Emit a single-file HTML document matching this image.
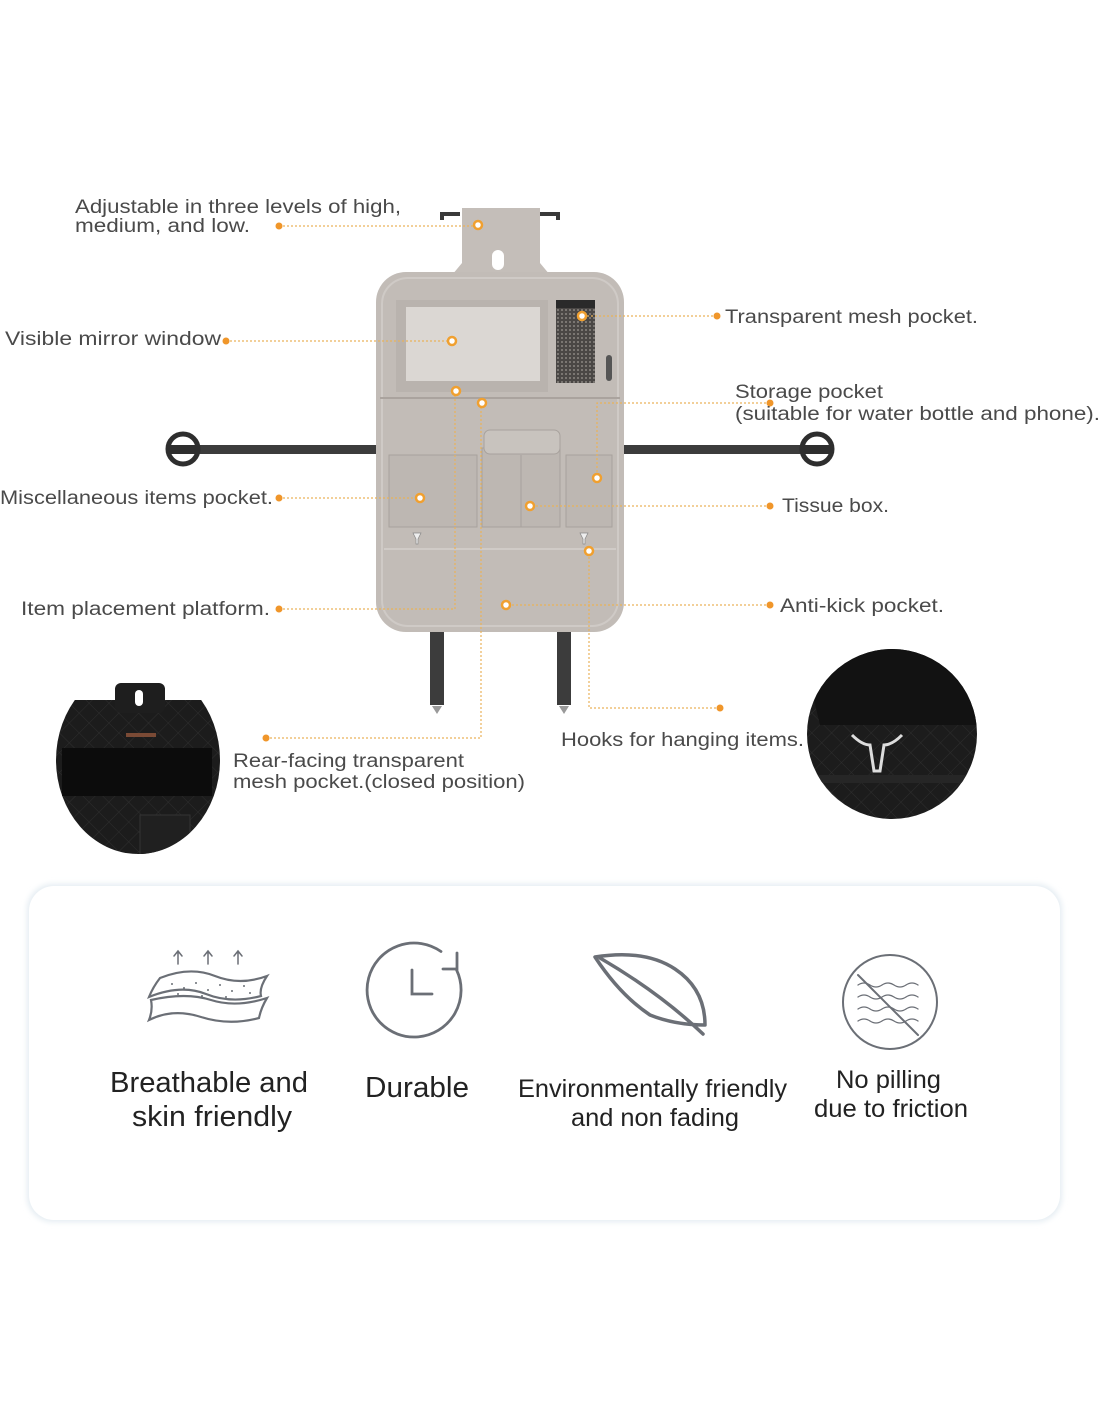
<!DOCTYPE html>
<html><head><meta charset="utf-8"><style>
html,body{margin:0;padding:0;background:#fff;}
svg{display:block;}
.l{font-family:"Liberation Sans",sans-serif;font-size:19px;fill:#4a4a4a;}
.b{font-family:"Liberation Sans",sans-serif;fill:#222;}
.ln{stroke:#e9b25a;stroke-width:1.2;stroke-dasharray:2 2;fill:none;}
</style></head><body>
<svg width="1100" height="1422" viewBox="0 0 1100 1422" xmlns="http://www.w3.org/2000/svg">
<defs>
<filter id="sh" x="-5%" y="-10%" width="110%" height="120%"><feGaussianBlur stdDeviation="3"/></filter>
<pattern id="mesh" width="4" height="4" patternUnits="userSpaceOnUse"><rect width="4" height="4" fill="#4a4745"/><circle cx="2" cy="2" r="1" fill="#8a8581"/></pattern>
<pattern id="quilt" width="14" height="14" patternUnits="userSpaceOnUse" patternTransform="rotate(45)"><rect width="14" height="14" fill="#1c1c1c"/><path d="M0 0H14M0 0V14" stroke="#2e2e2e" stroke-width="1"/></pattern>
<clipPath id="cc"><circle cx="892" cy="734" r="85"/></clipPath>
<clipPath id="lc"><ellipse cx="138" cy="760" rx="82" ry="94"/></clipPath>
</defs>

<rect x="190" y="445" width="190" height="9" fill="#3c3c3c"/>
<rect x="620" y="445" width="190" height="9" fill="#3c3c3c"/>
<circle cx="183" cy="449" r="15" fill="none" stroke="#2e2e2e" stroke-width="5"/>
<rect x="168" y="445" width="30" height="9" fill="#2e2e2e"/>
<circle cx="817" cy="449" r="15" fill="none" stroke="#2e2e2e" stroke-width="5"/>
<rect x="802" y="445" width="30" height="9" fill="#2e2e2e"/>
<rect x="430" y="630" width="14" height="75" fill="#3c3c3c"/>
<rect x="557" y="630" width="14" height="75" fill="#3c3c3c"/>
<path d="M432 706h10l-5 8z M559 706h10l-5 8z" fill="#999"/>
<path d="M442 220v-6h18M540 214h18v6" stroke="#3a3a3a" stroke-width="4" fill="none"/>
<path d="M462 208h78v55l10 12h-98l10-12z" fill="#c4beb9"/>
<rect x="492" y="250" width="12" height="20" rx="6" fill="#fff"/>
<rect x="376" y="272" width="248" height="360" rx="30" fill="#c2bcb7"/>
<rect x="382" y="278" width="236" height="348" rx="26" fill="none" stroke="#cfcac6" stroke-width="2"/>
<rect x="396" y="300" width="152" height="92" fill="#b9b3ae"/>
<rect x="406" y="307" width="134" height="74" fill="#dbd7d3"/>
<rect x="556" y="300" width="39" height="83" fill="url(#mesh)"/>
<rect x="556" y="300" width="39" height="8" fill="#2a2a2a"/>
<rect x="606" y="355" width="6" height="26" rx="3" fill="#555"/>
<line x1="380" y1="398" x2="620" y2="398" stroke="#aaa39e" stroke-width="2"/>
<line x1="384" y1="549" x2="616" y2="549" stroke="#d0cbc7" stroke-width="2"/>
<rect x="389" y="455" width="88" height="72" fill="#bdb7b2" stroke="#a8a29d"/>
<rect x="482" y="448" width="78" height="79" fill="#bdb7b2" stroke="#a8a29d"/>
<rect x="484" y="430" width="76" height="24" rx="6" fill="#c8c3be" stroke="#a8a29d"/>
<line x1="521" y1="455" x2="521" y2="527" stroke="#a8a29d"/>
<rect x="566" y="455" width="46" height="72" fill="#bdb7b2" stroke="#a8a29d"/>
<path d="M413 533h8l-3 6v5h-2v-5z M580 533h8l-3 6v5h-2v-5z" fill="#eee" stroke="#888" stroke-width=".7"/>

<path class="ln" d="M279 226H478"/>
<path class="ln" d="M226 341H452"/>
<path class="ln" d="M717 316H582"/>
<path class="ln" d="M770 403H597V478"/>
<path class="ln" d="M279 498H420"/>
<path class="ln" d="M770 506H530"/>
<path class="ln" d="M279 609H455V390"/>
<path class="ln" d="M770 605H506"/>
<path class="ln" d="M720 708H589V550"/>
<path class="ln" d="M266 738H481V403"/>
<g fill="#f0962a">
<circle cx="279" cy="226" r="3.5"/><circle cx="226" cy="341" r="3.5"/><circle cx="717" cy="316" r="3.5"/>
<circle cx="770" cy="403" r="3.5"/><circle cx="279" cy="498" r="3.5"/><circle cx="770" cy="506" r="3.5"/>
<circle cx="279" cy="609" r="3.5"/><circle cx="770" cy="605" r="3.5"/><circle cx="720" cy="708" r="3.5"/><circle cx="266" cy="738" r="3.5"/>
</g>
<g fill="#fff" stroke="#f0a030" stroke-width="2.5">
<circle cx="478" cy="225" r="4"/><circle cx="452" cy="341" r="4"/><circle cx="582" cy="316" r="4"/>
<circle cx="456" cy="391" r="4"/><circle cx="482" cy="403" r="4"/><circle cx="420" cy="498" r="4"/>
<circle cx="530" cy="506" r="4"/><circle cx="597" cy="478" r="4"/><circle cx="589" cy="551" r="4"/><circle cx="506" cy="605" r="4"/>
</g>

<text class="l" x="75" y="213" textLength="326" lengthAdjust="spacingAndGlyphs">Adjustable in three levels of high,</text>
<text class="l" x="75" y="232" textLength="175" lengthAdjust="spacingAndGlyphs">medium, and low.</text>
<text class="l" x="5" y="345" textLength="216" lengthAdjust="spacingAndGlyphs">Visible mirror window</text>
<text class="l" x="725" y="323" textLength="253" lengthAdjust="spacingAndGlyphs">Transparent mesh pocket.</text>
<text class="l" x="735" y="398" textLength="148" lengthAdjust="spacingAndGlyphs">Storage pocket</text>
<text class="l" x="735" y="420" textLength="365" lengthAdjust="spacingAndGlyphs">(suitable for water bottle and phone).</text>
<text class="l" x="0" y="504" textLength="273" lengthAdjust="spacingAndGlyphs">Miscellaneous items pocket.</text>
<text class="l" x="782" y="512" textLength="107" lengthAdjust="spacingAndGlyphs">Tissue box.</text>
<text class="l" x="21" y="615" textLength="249" lengthAdjust="spacingAndGlyphs">Item placement platform.</text>
<text class="l" x="780" y="612" textLength="164" lengthAdjust="spacingAndGlyphs">Anti-kick pocket.</text>
<text class="l" x="561" y="746" textLength="243" lengthAdjust="spacingAndGlyphs">Hooks for hanging items.</text>
<text class="l" x="233" y="767" textLength="231" lengthAdjust="spacingAndGlyphs">Rear-facing transparent</text>
<text class="l" x="233" y="788" textLength="292" lengthAdjust="spacingAndGlyphs">mesh pocket.(closed position)</text>

<g clip-path="url(#lc)">
<rect x="56" y="700" width="164" height="160" fill="url(#quilt)"/>
<rect x="62" y="748" width="150" height="48" fill="#0c0c0c"/>
<rect x="140" y="815" width="50" height="40" fill="#202020" stroke="#333"/>
</g>
<rect x="115" y="683" width="50" height="30" rx="6" fill="#1e1e1e"/>
<rect x="135" y="690" width="8" height="16" rx="4" fill="#fff"/>
<rect x="126" y="733" width="30" height="4" fill="#7a4a35"/>
<g clip-path="url(#cc)">
<rect x="800" y="640" width="190" height="190" fill="url(#quilt)"/>
<path d="M800 640H990V725H820z" fill="#121212"/>
<rect x="800" y="775" width="190" height="8" fill="#262626"/>
</g>
<path d="M852 735q10 10 18 10l4 26h6l4-26q8 0 18-10" fill="none" stroke="#ddd" stroke-width="3"/>

<rect x="27" y="884" width="1035" height="338" rx="26" fill="#e4ecf2" filter="url(#sh)"/>
<rect x="29" y="886" width="1031" height="334" rx="25" fill="#fff"/>

<g stroke="#6b6f76" stroke-width="2.2" fill="none" stroke-linecap="round">
<path d="M178 964v-12m-4 4l4-5 4 5 M208 964v-12m-4 4l4-5 4 5 M238 964v-12m-4 4l4-5 4 5" stroke-width="1.5"/>
<path d="M160 978q30-12 55-2t52 0q-8 12-6 20q-30 8-55-2t-57 3q4-10 11-19z"/>
<path d="M151 1000q35-8 60 0t56-2q-6 10-8 20q-30 8-58-1t-52 3q4-10 2-20z"/>
<g fill="#6b6f76" stroke="none"><circle cx="172" cy="984" r="1"/><circle cx="184" cy="988" r="1"/><circle cx="196" cy="983" r="1"/><circle cx="208" cy="990" r="1"/><circle cx="220" cy="985" r="1"/><circle cx="232" cy="991" r="1"/><circle cx="244" cy="986" r="1"/><circle cx="178" cy="994" r="1"/><circle cx="202" cy="996" r="1"/><circle cx="226" cy="997" r="1"/><circle cx="250" cy="993" r="1"/></g>
<path d="M456.6 970A47 47 0 1 1 441 951.5" stroke-width="2.8"/>
<path d="M457 953v16h-14" stroke-width="2.8"/>
<path d="M412 970v24h20" stroke-width="2.8"/>
<path d="M595 957q50-8 80 12t30 56q-30 0-55-10q-30-20-55-58z" stroke-width="3.5" stroke-linejoin="round"/>
<path d="M600 958q60 35 103 76" stroke-width="3.5"/>
<circle cx="890" cy="1002" r="47" stroke-width="2"/>
<path d="M858 975l60 60" stroke-width="2"/>
<path d="M858 985q6-4 12 0t12 0t12 0t12 0t12 0 M858 997q6-4 12 0t12 0t12 0t12 0t12 0 M858 1009q6-4 12 0t12 0t12 0t12 0t12 0 M858 1021q6-4 12 0t12 0t12 0t12 0t12 0" stroke-width="1.3"/>
</g>

<text class="b" x="110" y="1092" font-size="29" textLength="198" lengthAdjust="spacingAndGlyphs">Breathable and</text>
<text class="b" x="132" y="1126" font-size="29" textLength="160" lengthAdjust="spacingAndGlyphs">skin friendly</text>
<text class="b" x="365" y="1097" font-size="29" textLength="104" lengthAdjust="spacingAndGlyphs">Durable</text>
<text class="b" x="518" y="1097" font-size="25" textLength="269" lengthAdjust="spacingAndGlyphs">Environmentally friendly</text>
<text class="b" x="571" y="1126" font-size="25" textLength="168" lengthAdjust="spacingAndGlyphs">and non fading</text>
<text class="b" x="836" y="1088" font-size="25" textLength="105" lengthAdjust="spacingAndGlyphs">No pilling</text>
<text class="b" x="814" y="1117" font-size="25" textLength="154" lengthAdjust="spacingAndGlyphs">due to friction</text>
</svg>
</body></html>
